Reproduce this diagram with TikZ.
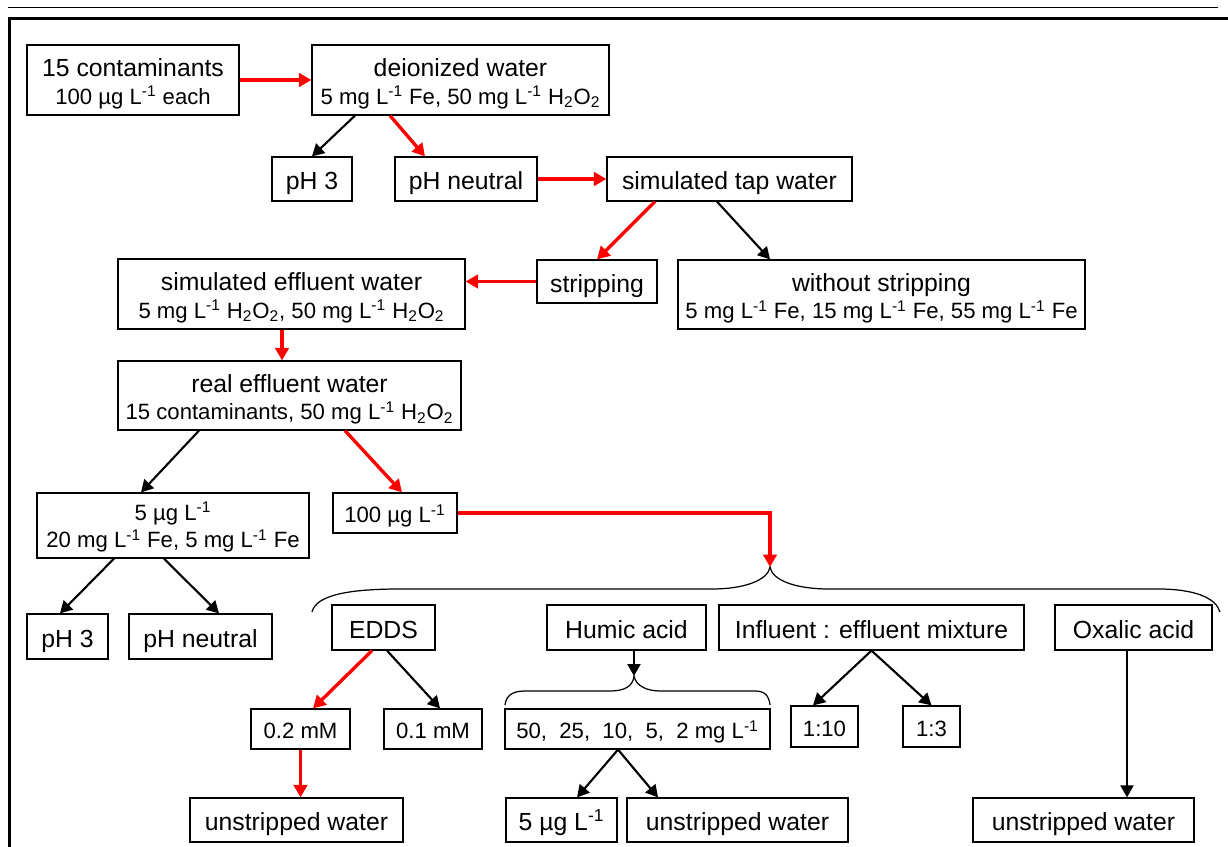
\documentclass[tikz,border=0pt]{standalone}
\usepackage{fontspec}
\setmainfont{Liberation Sans}
\usepackage{tikz}
\usetikzlibrary{calc, arrows.meta, positioning}
\newcommand{\perL}{L\textsuperscript{-1}}
\newcommand{\peroxide}{H\textsubscript{2}O\textsubscript{2}}
\newcommand{\bigline}{\fontsize{14.1}{15.7}\selectfont}

\begin{document}
\begin{tikzpicture}[
  x=0.02cm, y=-0.02cm,
  every node/.style={font=\fontsize{14.1}{16}\selectfont},
  box/.style={draw, line width=0.7pt, inner sep=1pt, minimum height=0.88cm, text height=12.4pt, text depth=0pt},
  twoline/.style={box, align=center, font=\fontsize{12.6}{15.7}\selectfont, minimum height=1.4cm, text height=27.7pt},
  smallbox/.style={box, font=\fontsize{12.6}{14}\selectfont, minimum height=0.8cm, text height=11.2pt},
  flow/.style={-{Triangle[length=2.4mm, width=2.6mm]}, line width=1.2pt},
  redflow/.style={-{Triangle[length=2.5mm, width=2.7mm]}, red, line width=1.9pt},
  curly/.style={line width=0.7pt}
]
\useasboundingbox (0,0) rectangle (1228,847);
\draw[line width=0.75pt] (8,7.3) -- (1218,7.3);
\draw[line width=1.5pt] (8,18.6) -- (1228,18.6);
\draw[line width=1.5pt] (9.7,17.8) -- (9.7,847);

\node[twoline, minimum width=4.24cm] (contaminants) at (133,80) {{\bigline 15 contaminants}\\100 µg \perL{} each};
\node[twoline, minimum width=5.94cm] (deionized) at (460.5,80) {{\bigline deionized water}\\5 mg \perL{} Fe, 50 mg \perL{} \peroxide};
\node[box, minimum width=1.6cm] (pH3-top) at (312,179) {pH 3};
\node[box, minimum width=2.84cm] (neutral-top) at (466,179) {pH neutral};
\node[box, minimum width=4.9cm] (tap-water) at (729.5,179) {simulated tap water};
\node[box, minimum width=2.4cm, minimum height=0.86cm] (stripping) at (597,281.5) {stripping};
\node[twoline, minimum width=8.14cm, minimum height=1.38cm] (no-stripping) at (881.5,294.5) {{\bigline without stripping}\\5 mg \perL{} Fe, 15 mg \perL{} Fe, 55 mg \perL{} Fe};
\node[twoline, minimum width=6.94cm] (sim-effluent) at (291.5,294) {{\bigline simulated effluent water}\\5 mg \perL{} \peroxide, 50 mg \perL{} \peroxide};
\node[twoline, minimum width=6.86cm, minimum height=1.38cm] (real-effluent) at (289.5,395.5) {{\bigline real effluent water}\\15 contaminants, 50 mg \perL{} \peroxide};
\node[twoline, minimum width=5.44cm, minimum height=1.3cm, text height=25.6pt] (low-conc) at (173,525.5) {5 µg \perL\\20 mg \perL{} Fe, 5 mg \perL{} Fe};
\node[smallbox, minimum width=2.48cm] (high-conc) at (395,513) {100 µg \perL};
\node[box, minimum width=1.62cm, minimum height=0.9cm] (pH3-low) at (67.5,636.5) {pH 3};
\node[box, minimum width=2.86cm, minimum height=0.9cm] (neutral-low) at (200.5,636.5) {pH neutral};
\node[box, minimum width=2.06cm, minimum height=0.9cm] (edds) at (383.5,627.5) {EDDS};
\node[box, minimum width=3.18cm, minimum height=0.9cm] (humic) at (626.5,627.5) {Humic acid};
\node[box, minimum width=6.1cm, minimum height=0.9cm] (mixture) at (871.5,627.5) {Influent : effluent mixture};
\node[box, minimum width=3.14cm, minimum height=0.9cm] (oxalic) at (1133.5,627.5) {Oxalic acid};
\node[smallbox, minimum width=1.98cm] (edds-02) at (300.5,729) {0.2 mM};
\node[smallbox, minimum width=1.96cm] (edds-01) at (433,729) {0.1 mM};
\node[smallbox, minimum width=5.3cm] (humic-levels) at (637.5,729) {50,\ \ 25,\ \ 10,\ \ 5,\ \ 2 mg \perL};
\node[smallbox, minimum width=1.34cm, minimum height=0.82cm] (ratio-10) at (824.5,726.5) {1:10};
\node[smallbox, minimum width=1.14cm, minimum height=0.82cm] (ratio-3) at (931.5,726.5) {1:3};
\node[box, minimum width=4.26cm] (unstripped-edds) at (296.5,820) {unstripped water};
\node[box, minimum width=2.22cm] (humic-low) at (561.5,820) {5 µg \perL};
\node[box, minimum width=4.42cm] (unstripped-humic) at (737.5,820) {unstripped water};
\node[box, minimum width=4.42cm] (unstripped-oxalic) at (1083.5,820) {unstripped water};

\coordinate (brace-tip) at (770,567);
\coordinate (humic-tip) at (634,676);
\draw[curly] (312,612) .. controls (316,596) and (345,589) .. (400,589) -- (712,589)
  .. controls (745,589) and (768,580) .. (brace-tip) .. controls (772,580) and (795,589) .. (829,589)
  -- (1158,589) .. controls (1195,589) and (1216,598) .. (1220,612);
\draw[curly] (505,705) .. controls (506,696) and (512,691) .. (525,691) -- (610,691)
  .. controls (625,691) and (633,686) .. (humic-tip) .. controls (636,686) and (647,691) .. (660,691)
  -- (755,691) .. controls (765,691) and (769,696) .. (770,705);

\draw[redflow] (contaminants.east) -- (deionized.west);
\draw[flow] ([xshift=-2.11cm]deionized.south) -- (pH3-top.north);
\draw[redflow] ([xshift=-1.41cm]deionized.south) -- ([xshift=-0.82cm]neutral-top.north);
\draw[redflow] (neutral-top.east) -- (tap-water.west);
\draw[redflow] ([xshift=-1.49cm]tap-water.south) -- (stripping.north);
\draw[flow] ([xshift=-0.25cm]tap-water.south) -- ([xshift=-2.23cm]no-stripping.north);
\draw[redflow] (stripping.west) -- (stripping.west -| sim-effluent.east);
\draw[redflow] ([xshift=-0.19cm]sim-effluent.south) -- ([xshift=-0.19cm]sim-effluent.south |- real-effluent.north);
\draw[flow] ([xshift=-1.81cm]real-effluent.south) -- ([xshift=-0.64cm]low-conc.north);
\draw[redflow] ([xshift=1.11cm]real-effluent.south) -- ([xshift=0.14cm]high-conc.north);
\draw[flow] ([xshift=-1.18cm]low-conc.south) -- ([xshift=-0.15cm]pH3-low.north);
\draw[flow] ([xshift=-0.18cm]low-conc.south) -- ([xshift=0.37cm]neutral-low.north);
\draw[redflow, line width=2.4pt] (high-conc.east) -| (brace-tip);
\draw[redflow] ([xshift=-0.23cm]edds.south) -- ([xshift=0.25cm]edds-02.north);
\draw[flow] ([xshift=0.07cm]edds.south) -- ([xshift=0.14cm]edds-01.north);
\draw[flow] (humic.south -| humic-tip) -- (humic-tip);
\draw[flow] (mixture.south) -- ([xshift=-0.23cm]ratio-10.north);
\draw[flow] (mixture.south) -- (ratio-3.north);
\draw[flow] ([xshift=-0.13cm]oxalic.south) -- ([xshift=-0.13cm]oxalic.south |- unstripped-oxalic.north);
\draw[redflow] (edds-02.south) -- (edds-02.south |- unstripped-edds.north);
\draw[flow] ([xshift=-0.39cm]humic-levels.south) -- ([xshift=0.31cm]humic-low.north);
\draw[flow] ([xshift=-0.39cm]humic-levels.south) -- ([xshift=-1.59cm]unstripped-humic.north);
\end{tikzpicture}
\end{document}
